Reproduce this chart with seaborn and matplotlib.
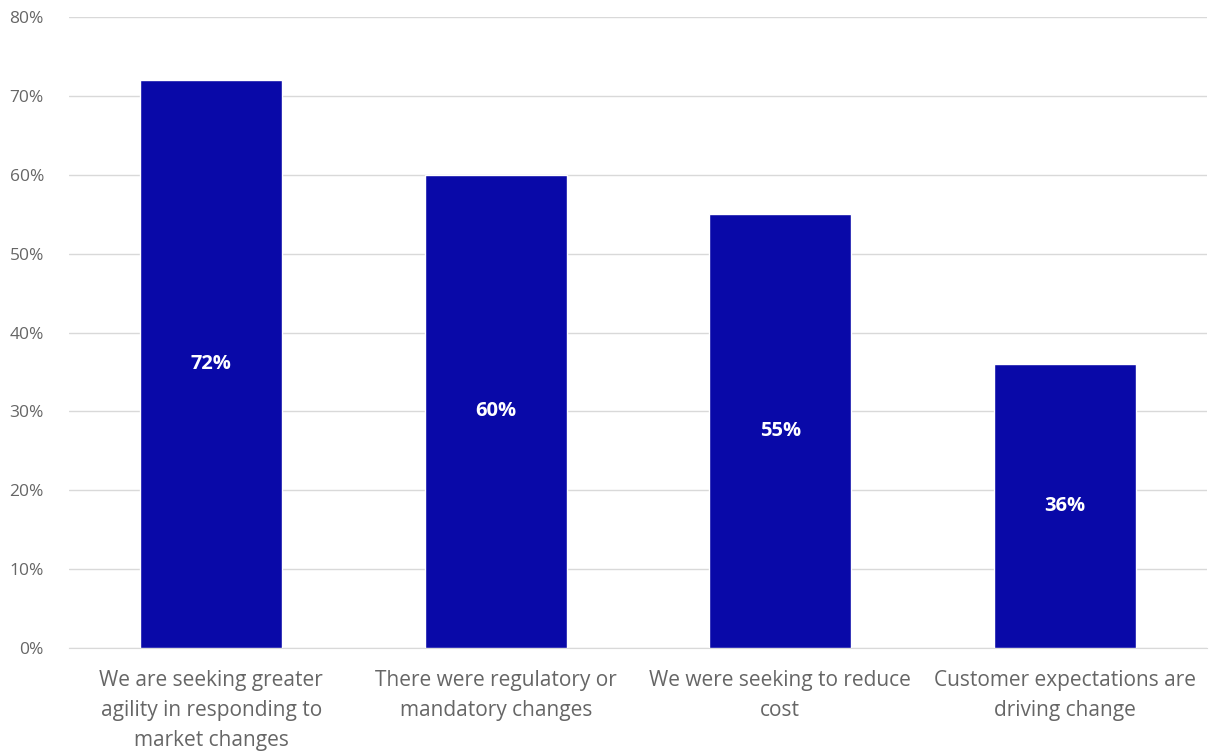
import matplotlib
matplotlib.use("Agg")
import matplotlib.pyplot as plt
import seaborn as sns
import pandas as pd
from matplotlib.ticker import FuncFormatter

categories = [
    "We are seeking greater\nagility in responding to\nmarket changes",
    "There were regulatory or\nmandatory changes",
    "We were seeking to reduce\ncost",
    "Customer expectations are\ndriving change",
]
values = [72, 60, 55, 36]
yticks = [0, 10, 20, 30, 40, 50, 60, 70, 80]

sns.set_style("white")
plt.rcParams["font.family"] = ["Open Sans", "DejaVu Sans"]

df = pd.DataFrame({"category": categories, "value": values})

fig = plt.figure(figsize=(12.1, 7.55), dpi=100)
ax = fig.add_axes([0.057, 0.1417, 0.9405, 0.8358])

sns.barplot(data=df, x="category", y="value", color="#0909A8", width=0.5,
            saturation=1, ax=ax, zorder=3)

ax.set_ylim(0, 80)
ax.set_xlim(-0.5, 3.5)
ax.set_yticks(yticks)
ax.yaxis.set_major_formatter(FuncFormatter(lambda v, p: f"{int(v)}%"))
ax.grid(axis="y", color="#D9D9D9", linewidth=1, zorder=0)
ax.set_axisbelow(True)
for s in ["top", "right", "left"]:
    ax.spines[s].set_visible(False)
ax.spines["bottom"].set_color("#D9D9D9")
ax.tick_params(axis="y", length=0, labelsize=12.5, labelcolor="#666666", pad=18)
ax.tick_params(axis="x", length=0, labelsize=15, labelcolor="#666666", pad=16)
for lbl in ax.get_xticklabels():
    lbl.set_linespacing(1.55)
ax.set_xlabel("")
ax.set_ylabel("")

for i, v in enumerate(values):
    ax.text(i, v / 2, f"{v}%", ha="center", va="center", color="white",
            fontsize=14.5, fontweight="bold", zorder=4)

fig.savefig("out.png", dpi=100)
